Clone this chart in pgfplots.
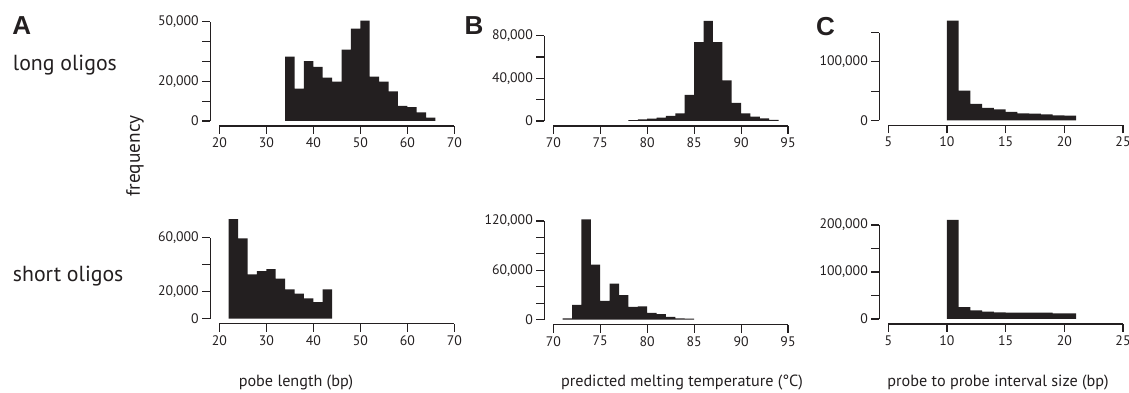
\documentclass[border=0pt]{standalone}
\usepackage{fontspec}
\setmainfont{PT Sans}
\newfontfamily\helv{Liberation Sans}
\usepackage{pgfplots}
\pgfplotsset{compat=1.18}
\definecolor{barblack}{RGB}{35,31,32}
\pgfplotsset{
  panel/.style={
    scale only axis,
    anchor=south west,
    axis lines=left,
    axis line style={-, line width=1.1pt, draw=barblack},
    axis x line shift=5pt,
    axis y line shift=9pt,
    tick align=outside,
    major tick length=8pt,
    every tick/.style={line width=1.1pt, draw=barblack},
    minor tick num=0,
    clip=false,
    tick label style={font=\fontsize{13.8}{13.8}\selectfont, text=barblack},
    scaled y ticks=false,
  },
  bars/.style={ybar interval, fill=barblack, draw=none},
}
\begin{document}
\begin{tikzpicture}[x=1pt,y=1pt]
\useasboundingbox (0,0) rectangle (1129,393);
% ---------- A top
\begin{axis}[panel, at={(219.3pt,272pt)}, width=235pt, height=99.3pt,
  xmin=20, xmax=70, ymin=0, ymax=50000,
  xtick={20,30,40,50,60,70}, xticklabels={20,30,40,50,60,70},
  ytick={0,10000,20000,30000,40000,50000},
  yticklabels={0,{},{20,000},{},{},{50,000}}]
\addplot[bars] coordinates {(34,32400)(36,16300)(38,30200)(40,27300)(42,21800)(44,19800)(46,35900)(48,46500)(50,50500)(52,22300)(54,19800)(56,14900)(58,7600)(60,7000)(62,4400)(64,1700)(66,1700)};
\end{axis}
% ---------- A bottom
\begin{axis}[panel, at={(219.3pt,74.3pt)}, width=235pt, height=81pt,
  xmin=20, xmax=70, ymin=0, ymax=60000,
  xtick={20,30,40,50,60,70}, xticklabels={20,30,40,50,60,70},
  ytick={0,20000,40000,60000},
  yticklabels={0,{20,000},{},{60,000}}]
\addplot[bars] coordinates {(22,73800)(24,59500)(26,32800)(28,35300)(30,36800)(32,29600)(34,21700)(36,18500)(38,15100)(40,12300)(42,21700)(44,21700)};
\end{axis}
% ---------- B top
\begin{axis}[panel, at={(553.3pt,272pt)}, width=234.7pt, height=85.3pt,
  xmin=70, xmax=95, ymin=0, ymax=80000,
  xtick={70,75,80,85,90,95}, xticklabels={70,75,80,85,90,95},
  ytick={0,20000,40000,60000,80000},
  yticklabels={0,{},{40,000},{},{80,000}}]
\addplot[bars] coordinates {(78,900)(79,1600)(80,2200)(81,3100)(82,4700)(83,7200)(84,24400)(85,74000)(86,93800)(87,74000)(88,38000)(89,16900)(90,7200)(91,4000)(92,2500)(93,1000)(94,1000)};
\end{axis}
% ---------- B bottom
\begin{axis}[panel, at={(553.3pt,73.3pt)}, width=234.7pt, height=98.7pt,
  xmin=70, xmax=95, ymin=0, ymax=120000,
  xtick={70,75,80,85,90,95}, xticklabels={70,75,80,85,90,95},
  ytick={0,20000,40000,60000,80000,100000,120000},
  yticklabels={0,{},{},{60,000},{},{},{120,000}}]
\addplot[bars] coordinates {(71,1600)(72,18000)(73,122000)(74,67000)(75,23000)(76,44000)(77,30000)(78,15500)(79,16300)(80,8200)(81,6900)(82,3300)(83,1600)(84,1200)(85,1200)};
\end{axis}
% ---------- C top
\begin{axis}[panel, at={(888.3pt,272.7pt)}, width=234.7pt, height=87.6pt,
  xmin=5, xmax=25, ymin=0, ymax=150000,
  xtick={5,10,15,20,25}, xticklabels={5,10,15,20,25},
  ytick={0,50000,100000,150000},
  yticklabels={0,{},{100,000},{}}]
\addplot[bars] coordinates {(10,170700)(11,50800)(12,28000)(13,21100)(14,18800)(15,14300)(16,12000)(17,11400)(18,10300)(19,8600)(20,8000)(21,8000)};
\end{axis}
% ---------- C bottom
\begin{axis}[panel, at={(888.3pt,74pt)}, width=234.7pt, height=94pt,
  xmin=5, xmax=25, ymin=0, ymax=200000,
  xtick={5,10,15,20,25}, xticklabels={5,10,15,20,25},
  ytick={0,50000,100000,150000,200000},
  yticklabels={0,{},{100,000},{},{200,000}}]
\addplot[bars] coordinates {(10,211000)(11,25400)(12,18300)(13,15500)(14,14100)(15,13400)(16,13400)(17,13400)(18,13400)(19,12000)(20,12000)(21,12000)};
\end{axis}
% ---------- texts
\node[anchor=base west, inner sep=0, font=\helv\bfseries\fontsize{26}{26}\selectfont, text=barblack] at (12.2,358) {A};
\node[anchor=base west, inner sep=0, font=\helv\bfseries\fontsize{26}{26}\selectfont, text=barblack] at (464.5,358) {B};
\node[anchor=base west, inner sep=0, font=\helv\bfseries\fontsize{26}{26}\selectfont, text=barblack] at (816,357) {C};
\node[anchor=base west, inner sep=0, font=\fontsize{21.8}{21.8}\selectfont, text=barblack] at (12.7,322.3) {long oligos};
\node[anchor=base west, inner sep=0, font=\fontsize{21.8}{21.8}\selectfont, text=barblack] at (12.7,111) {short oligos};
\node[rotate=90, inner sep=0, font=\fontsize{19.3}{19.3}\selectfont, text=barblack] at (135,237) {frequency};
\node[anchor=base, inner sep=0, font=\fontsize{16.2}{16.2}\selectfont, text=barblack] at (296,6) {pobe length (bp)};
\node[anchor=base, inner sep=0, font=\fontsize{16.2}{16.2}\selectfont, text=barblack] at (682,6) {predicted melting temperature (\textdegree C)};
\node[anchor=base, inner sep=0, font=\fontsize{16.2}{16.2}\selectfont, text=barblack] at (998,6) {probe to probe interval size (bp)};
\end{tikzpicture}
\end{document}
